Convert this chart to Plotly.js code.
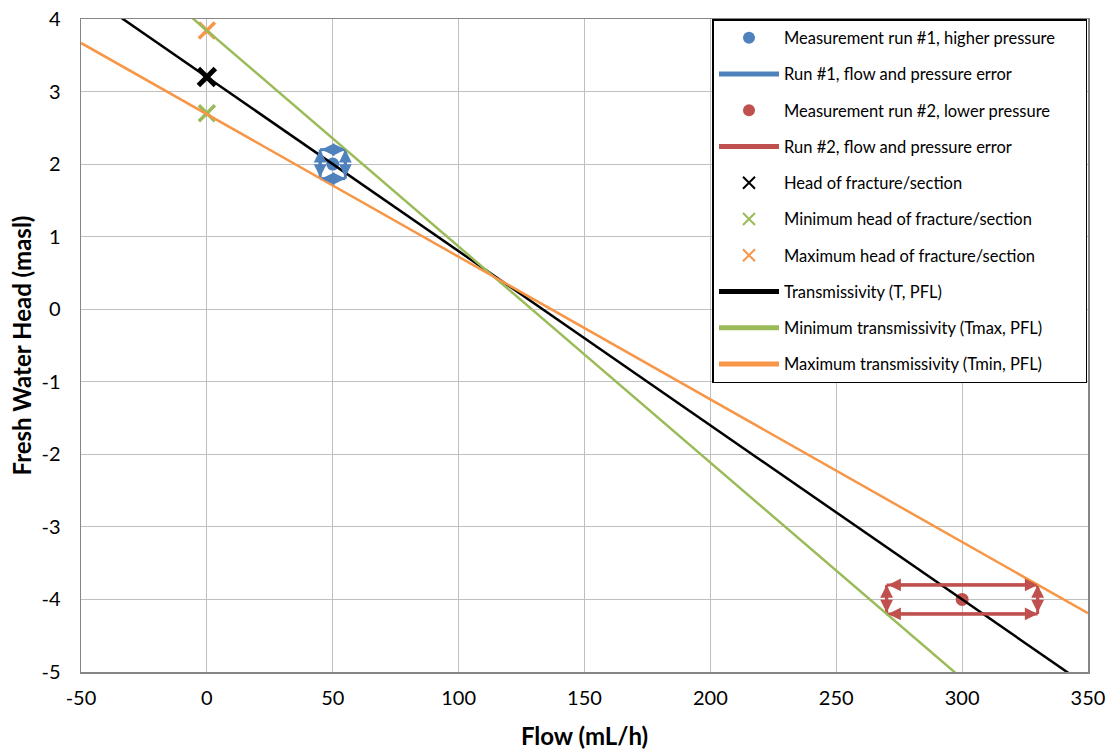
<!DOCTYPE html>
<html>
<head>
<meta charset="utf-8">
<script src="https://cdn.plot.ly/plotly-3.0.1.min.js"></script>
<style>html,body{margin:0;padding:0;background:#fff}#chart{width:1109px;height:752px}</style>
</head>
<body>
<div id="chart"></div>
<script>
// Measurement points
const run1Flow = [50];
const run1Head = [2];
const run1ErrFlow = [45, 55];   // flow error range
const run1ErrHead = [1.8, 2.2]; // pressure/head error range

const run2Flow = [300];
const run2Head = [-4];
const run2ErrFlow = [270, 330];
const run2ErrHead = [-4.2, -3.8];

// Heads of fracture/section at zero flow
const headFlow = [0];
const headValue = [3.2];
const minHeadFlow = [0];
const minHeadValue = [2.7];
const maxHeadFlow = [0];
const maxHeadValue = [3.84];

// Transmissivity lines (read at x = -50 and x = 350)
const lineFlow = [-50, 350];
const tHead = [4.4, -5.2];
const tmaxHead = [5.33, -6.58];
const tminHead = [3.67, -4.19];

// Axis ticks
const xTicks = [-50, 0, 50, 100, 150, 200, 250, 300, 350];
const yTicks = [-5, -4, -3, -2, -1, 0, 1, 2, 3, 4];

const BLUE = '#4f81bd', RED = '#c0504d', GREEN = '#9bbb59', ORANGE = '#f79646';
const FONT = 'Lato, "Open Sans", sans-serif';
const PAD = '\u00a0'.repeat(6); // right padding inside the legend box

function boxSegments(fx, hy) {
  return [
    {x0: fx[0], y0: hy[1], x1: fx[1], y1: hy[1]},
    {x0: fx[0], y0: hy[0], x1: fx[1], y1: hy[0]},
    {x0: fx[0], y0: hy[0], x1: fx[0], y1: hy[1]},
    {x0: fx[1], y0: hy[0], x1: fx[1], y1: hy[1]}
  ];
}
function segTrace(segs) {
  const x = [], y = [];
  segs.forEach(s => { x.push(s.x0, s.x1, null); y.push(s.y0, s.y1, null); });
  return {x, y};
}
const seg1 = boxSegments(run1ErrFlow, run1ErrHead);
const seg2 = boxSegments(run2ErrFlow, run2ErrHead);
const st1 = segTrace(seg1), st2 = segTrace(seg2);

let g = 0;
const traces = [
  {name: 'Measurement run #1, higher pressure' + PAD, x: run1Flow, y: run1Head, mode: 'markers',
   marker: {color: BLUE, size: 13}, legendgroup: 'g' + (g++)},
  {name: 'Run #1, flow and pressure error', x: st1.x, y: st1.y, mode: 'lines',
   line: {color: BLUE, width: 3}, legendgroup: 'g' + (g++)},
  {name: 'Measurement run #2, lower pressure', x: run2Flow, y: run2Head, mode: 'markers',
   marker: {color: RED, size: 13}, legendgroup: 'g' + (g++)},
  {name: 'Run #2, flow and pressure error', x: st2.x, y: st2.y, mode: 'lines',
   line: {color: RED, width: 3}, legendgroup: 'g' + (g++)},
  {name: 'Head of fracture/section', x: headFlow, y: headValue, mode: 'markers',
   marker: {symbol: 'x-thin', size: 17, line: {color: '#000', width: 5}}, legendgroup: 'g' + (g++)},
  {name: 'Minimum head of fracture/section', x: minHeadFlow, y: minHeadValue, mode: 'markers',
   marker: {symbol: 'x-thin', size: 16, line: {color: GREEN, width: 3.5}}, legendgroup: 'g' + (g++)},
  {name: 'Maximum head of fracture/section', x: maxHeadFlow, y: maxHeadValue, mode: 'markers',
   marker: {symbol: 'x-thin', size: 16, line: {color: ORANGE, width: 3.5}}, legendgroup: 'g' + (g++)},
  {name: 'Transmissivity (T, PFL)', x: lineFlow, y: tHead, mode: 'lines',
   line: {color: '#000', width: 2.5}, legendgroup: 'g' + (g++)},
  {name: 'Minimum transmissivity (Tmax, PFL)', x: lineFlow, y: tmaxHead, mode: 'lines',
   line: {color: GREEN, width: 2.5}, legendgroup: 'g' + (g++)},
  {name: 'Maximum transmissivity (Tmin, PFL)', x: lineFlow, y: tminHead, mode: 'lines',
   line: {color: ORANGE, width: 2.5}, legendgroup: 'g' + (g++)}
];

function arrowAnns(segs, color) {
  return segs.map(s => ({
    x: s.x1, y: s.y1, ax: s.x0, ay: s.y0, xref: 'x', yref: 'y', axref: 'x', ayref: 'y',
    text: '', showarrow: true, arrowhead: 2, startarrowhead: 2, arrowside: 'end+start',
    arrowsize: 0.8, startarrowsize: 0.8, arrowwidth: 3.2, arrowcolor: color, standoff: 0, startstandoff: 0
  }));
}

const layout = {
  width: 1109, height: 752,
  margin: {l: 81, r: 21, t: 19, b: 80},
  paper_bgcolor: '#fff', plot_bgcolor: '#fff',
  font: {family: FONT, color: '#000'},
  showlegend: true,
  xaxis: {
    range: [-50, 350], tickvals: xTicks, ticktext: xTicks.map(String),
    showgrid: true, gridcolor: '#bfbfbf', gridwidth: 1, zeroline: false,
    showline: true, linecolor: '#868686', linewidth: 1.5, mirror: true,
    ticks: '', tickfont: {size: 20, family: FONT}, ticklabelstandoff: 7,
    title: {text: '<b>Flow (mL/h)</b>', font: {size: 24, family: FONT}, standoff: 20}
  },
  yaxis: {
    range: [-5, 4], tickvals: yTicks, ticktext: yTicks.map(String),
    showgrid: true, gridcolor: '#bfbfbf', gridwidth: 1, zeroline: false,
    showline: true, linecolor: '#868686', linewidth: 1.5, mirror: true,
    ticks: '', tickfont: {size: 20, family: FONT}, ticklabelstandoff: 15,
    title: {text: '<b>Fresh Water Head (masl)</b>', font: {size: 24, family: FONT}, standoff: 3}
  },
  legend: {
    x: 0.9995, xanchor: 'right', y: 1.0, yanchor: 'top',
    bgcolor: '#fff', bordercolor: '#000', borderwidth: 1.5,
    font: {size: 16.5, family: FONT}, traceorder: 'grouped', tracegroupgap: 11.8,
    itemsizing: 'constant', itemwidth: 60
  },
  annotations: arrowAnns(seg1, BLUE).concat(arrowAnns(seg2, RED))
};

Plotly.newPlot('chart', traces, layout, {displayModeBar: false, staticPlot: true});
</script>
</body>
</html>
